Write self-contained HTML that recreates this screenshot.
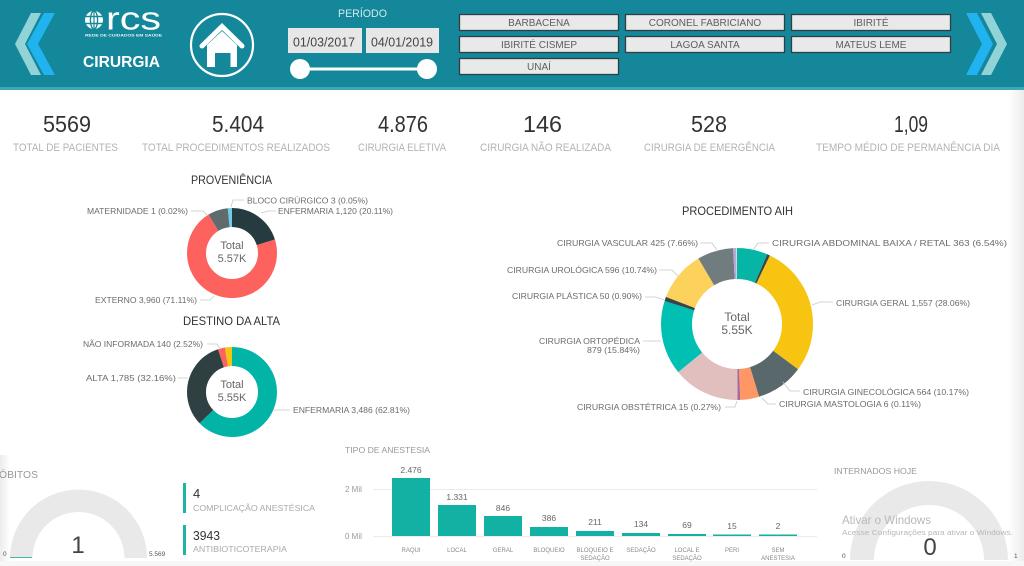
<!DOCTYPE html>
<html><head><meta charset="utf-8">
<style>
html,body{margin:0;padding:0;background:#fff;width:1024px;height:566px;overflow:hidden}
svg{display:block}
text{font-family:"Liberation Sans",Arial,sans-serif}
</style></head>
<body>
<svg width="1024" height="566" viewBox="0 0 1024 566" xmlns="http://www.w3.org/2000/svg">
<defs>
<linearGradient id="rg" x1="0" x2="1" y1="0" y2="0"><stop offset="0" stop-color="#ffffff"/><stop offset="1" stop-color="#ececec"/></linearGradient>
<linearGradient id="lg" x1="0" x2="1" y1="0" y2="0"><stop offset="0" stop-color="#ececec"/><stop offset="1" stop-color="#ffffff"/></linearGradient>
</defs>
<rect x="0" y="0" width="1024" height="566" fill="#ffffff"/>
<rect x="1008" y="90" width="16" height="476" fill="url(#rg)"/>
<rect x="0" y="455" width="10" height="111" fill="url(#lg)"/>
<rect x="0" y="561" width="1024" height="5" fill="#f7f7f7"/>

<!-- HEADER -->
<rect x="0" y="0" width="1024" height="88" fill="#14889a"/>
<rect x="0" y="87" width="1024" height="3" fill="#3aa9b6"/>
<polygon points="31,13 41,13 25,44 41,75 31,75 15,44" fill="#92d3d8"/>
<polygon points="44,13 55,13 38,44 55,75 44,75 27,44" fill="#21b2f0"/>
<polygon points="981,13 991,13 1007,44 991,75 981,75 997,44" fill="#92d3d8"/>
<polygon points="966,13 977,13 993,44 977,75 966,75 982,44" fill="#21b2f0"/>
<circle cx="94" cy="20" r="9" fill="#ffffff"/>
<ellipse cx="94" cy="20" rx="3.6" ry="9" fill="none" stroke="#14889a" stroke-width="1.4"/>
<line x1="85" y1="16.5" x2="103" y2="16.5" stroke="#14889a" stroke-width="1.4"/>
<line x1="85" y1="23.5" x2="103" y2="23.5" stroke="#14889a" stroke-width="1.4"/>
<line x1="94" y1="11" x2="94" y2="29" stroke="#14889a" stroke-width="1.2"/>
<text x="106" y="29.5" font-size="32" fill="#ffffff" textLength="55" lengthAdjust="spacingAndGlyphs">rcs</text>
<text x="85" y="36.5" font-size="3.6" fill="#e6f4f6" textLength="77" lengthAdjust="spacingAndGlyphs" font-weight="bold">REDE DE CUIDADOS EM SAÚDE</text>
<text x="83" y="67" font-size="16" font-weight="bold" fill="#ffffff" textLength="77" lengthAdjust="spacingAndGlyphs">CIRURGIA</text>
<circle cx="222" cy="45" r="31" fill="none" stroke="#ffffff" stroke-width="2.2"/>
<polyline points="202,46 222,26.5 242,46" fill="none" stroke="#ffffff" stroke-width="5" stroke-linecap="round" stroke-linejoin="miter"/>
<path d="M207,45 L222,31 L237,45 L237,67 L230.5,67 L230.5,53 L215,53 L215,67 L207,67 Z" fill="#ffffff"/>
<text x="338" y="17" font-size="11" fill="#cfe9ee" textLength="49" lengthAdjust="spacingAndGlyphs">PERÍODO</text>
<rect x="288" y="28" width="74" height="25" fill="#e7e7e7"/>
<rect x="366" y="28" width="73" height="25" fill="#e7e7e7"/>
<text x="293" y="46.5" font-size="13" fill="#444" textLength="62" lengthAdjust="spacingAndGlyphs">01/03/2017</text>
<text x="371" y="46.5" font-size="13" fill="#444" textLength="62" lengthAdjust="spacingAndGlyphs">04/01/2019</text>
<line x1="300" y1="69" x2="427" y2="69" stroke="#ffffff" stroke-width="3"/>
<circle cx="300" cy="69" r="10" fill="#ffffff"/>
<circle cx="427" cy="69" r="10" fill="#ffffff"/>
<g fill="#e9e9e9" stroke="#2e3e42" stroke-width="1.3">
<rect x="459.5" y="14.5" width="159" height="16"/>
<rect x="625.5" y="14.5" width="159" height="16"/>
<rect x="791.5" y="14.5" width="159" height="16"/>
<rect x="459.5" y="36.5" width="159" height="16"/>
<rect x="625.5" y="36.5" width="159" height="16"/>
<rect x="791.5" y="36.5" width="159" height="16"/>
<rect x="459.5" y="58.5" width="159" height="16"/>
</g>
<g font-size="10" fill="#5e5e5e" text-anchor="middle">
<text x="539" y="26">BARBACENA</text>
<text x="705" y="26">CORONEL FABRICIANO</text>
<text x="871" y="26">IBIRITÉ</text>
<text x="539" y="48">IBIRITÉ CISMEP</text>
<text x="705" y="48">LAGOA SANTA</text>
<text x="871" y="48">MATEUS LEME</text>
<text x="539" y="70">UNAÍ</text>
</g>

<!-- KPIs -->
<g font-size="23" fill="#333">
<text x="43" y="132" textLength="48" lengthAdjust="spacingAndGlyphs">5569</text>
<text x="212" y="132" textLength="52" lengthAdjust="spacingAndGlyphs">5.404</text>
<text x="378" y="132" textLength="50" lengthAdjust="spacingAndGlyphs">4.876</text>
<text x="523" y="132" textLength="39" lengthAdjust="spacingAndGlyphs">146</text>
<text x="691" y="132" textLength="36" lengthAdjust="spacingAndGlyphs">528</text>
<text x="894" y="132" textLength="34" lengthAdjust="spacingAndGlyphs">1,09</text>
</g>
<g font-size="11" fill="#b3b3b3">
<text x="13" y="151" textLength="105" lengthAdjust="spacingAndGlyphs">TOTAL DE PACIENTES</text>
<text x="142" y="151" textLength="188" lengthAdjust="spacingAndGlyphs">TOTAL PROCEDIMENTOS REALIZADOS</text>
<text x="358" y="151" textLength="88" lengthAdjust="spacingAndGlyphs">CIRURGIA ELETIVA</text>
<text x="480" y="151" textLength="131" lengthAdjust="spacingAndGlyphs">CIRURGIA NÃO REALIZADA</text>
<text x="644" y="151" textLength="131" lengthAdjust="spacingAndGlyphs">CIRURGIA DE EMERGÊNCIA</text>
<text x="816" y="151" textLength="184" lengthAdjust="spacingAndGlyphs">TEMPO MÉDIO DE PERMANÊNCIA DIA</text>
</g>

<!-- PROVENIENCIA -->
<text x="191" y="184" font-size="12" fill="#333" textLength="81" lengthAdjust="spacingAndGlyphs">PROVENIÊNCIA</text>
<g fill="none" stroke-width="19" transform="rotate(-90 232 253)">
<circle cx="232" cy="253" r="35.5" pathLength="100" stroke="#263b40" stroke-dasharray="20.11 100" stroke-dashoffset="0"/>
<circle cx="232" cy="253" r="35.5" pathLength="100" stroke="#fd625e" stroke-dasharray="71.11 100" stroke-dashoffset="-20.11"/>
<circle cx="232" cy="253" r="35.5" pathLength="100" stroke="#5f6b6d" stroke-dasharray="7.28 100" stroke-dashoffset="-91.22"/>
<circle cx="232" cy="253" r="35.5" pathLength="100" stroke="#6ccfe6" stroke-dasharray="1.5 100" stroke-dashoffset="-98.5"/>
</g>
<text x="232" y="249" font-size="11" fill="#666" text-anchor="middle">Total</text>
<text x="232" y="262" font-size="11" fill="#666" text-anchor="middle">5.57K</text>
<g font-size="8.5" fill="#6b6b6b">
<text x="247" y="203.5" textLength="121" lengthAdjust="spacingAndGlyphs">BLOCO CIRÚRGICO 3 (0.05%)</text>
<text x="278" y="214" textLength="115" lengthAdjust="spacingAndGlyphs">ENFERMARIA 1,120 (20.11%)</text>
<text x="87" y="214" textLength="101" lengthAdjust="spacingAndGlyphs">MATERNIDADE 1 (0.02%)</text>
<text x="95" y="303" textLength="102" lengthAdjust="spacingAndGlyphs">EXTERNO 3,960 (71.11%)</text>
</g>
<g fill="none" stroke="#c8c8c8" stroke-width="0.8">
<polyline points="191,211 203,211 207,215"/>
<polyline points="231,207 233,200 244,200"/>
<polyline points="261,213 268,211 276,211"/>
<polyline points="200,300 210,300 214,296"/>
</g>

<!-- DESTINO DA ALTA -->
<text x="183" y="325" font-size="12" fill="#333" textLength="97" lengthAdjust="spacingAndGlyphs">DESTINO DA ALTA</text>
<g fill="none" stroke-width="19" transform="rotate(-90 232 392)">
<circle cx="232" cy="392" r="35.5" pathLength="100" stroke="#01b4a6" stroke-dasharray="62.81 100" stroke-dashoffset="0"/>
<circle cx="232" cy="392" r="35.5" pathLength="100" stroke="#2f4043" stroke-dasharray="32.16 100" stroke-dashoffset="-62.81"/>
<circle cx="232" cy="392" r="35.5" pathLength="100" stroke="#fd625e" stroke-dasharray="2.52 100" stroke-dashoffset="-94.97"/>
<circle cx="232" cy="392" r="35.5" pathLength="100" stroke="#f2c80f" stroke-dasharray="2.51 100" stroke-dashoffset="-97.49"/>
</g>
<text x="232" y="388" font-size="11" fill="#666" text-anchor="middle">Total</text>
<text x="232" y="401" font-size="11" fill="#666" text-anchor="middle">5.55K</text>
<g font-size="8.5" fill="#6b6b6b">
<text x="83" y="347" textLength="120" lengthAdjust="spacingAndGlyphs">NÃO INFORMADA 140 (2.52%)</text>
<text x="86" y="381" textLength="90" lengthAdjust="spacingAndGlyphs">ALTA 1,785 (32.16%)</text>
<text x="293" y="413" textLength="117" lengthAdjust="spacingAndGlyphs">ENFERMARIA 3,486 (62.81%)</text>
</g>
<g fill="none" stroke="#c8c8c8" stroke-width="0.8">
<polyline points="207,344 217,344 220,348"/>
<polyline points="178,378 188,378"/>
<polyline points="273,410 290,410"/>
</g>

<!-- PROCEDIMENTO AIH -->
<text x="682" y="215" font-size="12" fill="#333" textLength="111" lengthAdjust="spacingAndGlyphs">PROCEDIMENTO AIH</text>
<g fill="none" stroke-width="31" transform="rotate(-90 737 324)">
<circle cx="737" cy="324" r="60.5" pathLength="100" stroke="#06b5a6" stroke-dasharray="6.54 100" stroke-dashoffset="0"/>
<circle cx="737" cy="324" r="60.5" pathLength="100" stroke="#374649" stroke-dasharray="0.6 100" stroke-dashoffset="-6.54"/>
<circle cx="737" cy="324" r="60.5" pathLength="100" stroke="#f7c511" stroke-dasharray="28.06 100" stroke-dashoffset="-7.14"/>
<circle cx="737" cy="324" r="60.5" pathLength="100" stroke="#59696b" stroke-dasharray="10.17 100" stroke-dashoffset="-35.2"/>
<circle cx="737" cy="324" r="60.5" pathLength="100" stroke="#fe9666" stroke-dasharray="4.0 100" stroke-dashoffset="-45.37"/>
<circle cx="737" cy="324" r="60.5" pathLength="100" stroke="#a66999" stroke-dasharray="0.6 100" stroke-dashoffset="-49.37"/>
<circle cx="737" cy="324" r="60.5" pathLength="100" stroke="#e2bfbf" stroke-dasharray="14.19 100" stroke-dashoffset="-49.97"/>
<circle cx="737" cy="324" r="60.5" pathLength="100" stroke="#00bfb3" stroke-dasharray="15.84 100" stroke-dashoffset="-64.16"/>
<circle cx="737" cy="324" r="60.5" pathLength="100" stroke="#374649" stroke-dasharray="0.9 100" stroke-dashoffset="-80"/>
<circle cx="737" cy="324" r="60.5" pathLength="100" stroke="#fcd15c" stroke-dasharray="10.74 100" stroke-dashoffset="-80.9"/>
<circle cx="737" cy="324" r="60.5" pathLength="100" stroke="#707c7e" stroke-dasharray="7.66 100" stroke-dashoffset="-91.64"/>
<circle cx="737" cy="324" r="60.5" pathLength="100" stroke="#b9a6d9" stroke-dasharray="0.7 100" stroke-dashoffset="-99.3"/>
</g>
<text x="737" y="321" font-size="12" fill="#666" text-anchor="middle">Total</text>
<text x="737" y="334" font-size="12" fill="#666" text-anchor="middle">5.55K</text>
<g font-size="8.5" fill="#6b6b6b">
<text x="557" y="246" textLength="141" lengthAdjust="spacingAndGlyphs">CIRURGIA VASCULAR 425 (7.66%)</text>
<text x="772" y="246" textLength="235" lengthAdjust="spacingAndGlyphs">CIRURGIA ABDOMINAL BAIXA / RETAL 363 (6.54%)</text>
<text x="507" y="273" textLength="150" lengthAdjust="spacingAndGlyphs">CIRURGIA UROLÓGICA 596 (10.74%)</text>
<text x="512" y="299" textLength="130" lengthAdjust="spacingAndGlyphs">CIRURGIA PLÁSTICA 50 (0.90%)</text>
<text x="836" y="306" textLength="134" lengthAdjust="spacingAndGlyphs">CIRURGIA GERAL 1,557 (28.06%)</text>
<text x="640" y="344" text-anchor="end" textLength="101" lengthAdjust="spacingAndGlyphs">CIRURGIA ORTOPÉDICA</text>
<text x="640" y="353" text-anchor="end" textLength="53" lengthAdjust="spacingAndGlyphs">879 (15.84%)</text>
<text x="803" y="395" textLength="166" lengthAdjust="spacingAndGlyphs">CIRURGIA GINECOLÓGICA 564 (10.17%)</text>
<text x="779" y="407" textLength="142" lengthAdjust="spacingAndGlyphs">CIRURGIA MASTOLOGIA 6 (0.11%)</text>
<text x="577" y="410" textLength="144" lengthAdjust="spacingAndGlyphs">CIRURGIA OBSTÉTRICA 15 (0.27%)</text>
</g>
<g fill="none" stroke="#c8c8c8" stroke-width="0.8">
<polyline points="700,243 712,243 717,250"/>
<polyline points="769,243 758,243 753,250"/>
<polyline points="659,270 672,270 678,276"/>
<polyline points="645,297 656,297 664,300"/>
<polyline points="812,305 820,302 833,302"/>
<polyline points="643,341 661,341"/>
<polyline points="783,382 790,391 800,391"/>
<polyline points="762,398 768,404 776,404"/>
<polyline points="725,407 735,407 737,401"/>
</g>

<!-- OBITOS -->
<text x="-1" y="478" font-size="10.5" fill="#999" textLength="39" lengthAdjust="spacingAndGlyphs">ÓBITOS</text>
<path d="M10,558 A68.5,68.5 0 0 1 147,558 L124.5,558 A46,46 0 0 0 32.5,558 Z" fill="#e9e9e9"/>
<line x1="10" y1="557.5" x2="32" y2="557.5" stroke="#3bb5ad" stroke-width="1"/>
<text x="78" y="553" font-size="24" fill="#444" text-anchor="middle">1</text>
<text x="3" y="556" font-size="6.5" fill="#555">0</text>
<text x="149" y="556" font-size="6.5" fill="#555">5.569</text>

<rect x="183" y="483" width="3" height="30" fill="#1fb5a5"/>
<rect x="183" y="525" width="3" height="30" fill="#1fb5a5"/>
<text x="193" y="498" font-size="13" fill="#333">4</text>
<text x="193" y="511" font-size="8.7" fill="#aaa" textLength="122" lengthAdjust="spacingAndGlyphs">COMPLICAÇÃO ANESTÉSICA</text>
<text x="193" y="540" font-size="13" fill="#333" textLength="27" lengthAdjust="spacingAndGlyphs">3943</text>
<text x="193" y="552" font-size="8.7" fill="#aaa" textLength="94" lengthAdjust="spacingAndGlyphs">ANTIBIOTICOTERAPIA</text>

<!-- TIPO DE ANESTESIA -->
<text x="345" y="453" font-size="8.5" fill="#999" textLength="85" lengthAdjust="spacingAndGlyphs">TIPO DE ANESTESIA</text>
<line x1="373" y1="489.5" x2="817" y2="489.5" stroke="#ebebeb" stroke-width="1"/>
<line x1="373" y1="536.5" x2="817" y2="536.5" stroke="#ebebeb" stroke-width="1"/>
<text x="345" y="492" font-size="8" fill="#999">2 Mil</text>
<text x="345" y="539" font-size="8" fill="#999">0 Mil</text>
<g fill="#12b1a3">
<rect x="392" y="478" width="38" height="58"/>
<rect x="438" y="505" width="38" height="31"/>
<rect x="484" y="516" width="38" height="20"/>
<rect x="530" y="527" width="38" height="9"/>
<rect x="576" y="531" width="38" height="5"/>
<rect x="622" y="533" width="38" height="3"/>
<rect x="668" y="534" width="38" height="2"/>
<rect x="713" y="534.5" width="38" height="1.5"/>
<rect x="759" y="534.5" width="38" height="1.5"/>
</g>
<g font-size="8.5" fill="#666" text-anchor="middle">
<text x="411" y="473">2.476</text>
<text x="457" y="500">1.331</text>
<text x="503" y="511">846</text>
<text x="549" y="521">386</text>
<text x="595" y="525">211</text>
<text x="641" y="527">134</text>
<text x="687" y="528">69</text>
<text x="732" y="529">15</text>
<text x="778" y="529">2</text>
</g>
<g font-size="6" fill="#888" text-anchor="middle">
<text x="411" y="552">RAQUI</text>
<text x="457" y="552">LOCAL</text>
<text x="503" y="552">GERAL</text>
<text x="549" y="552">BLOQUEIO</text>
<text x="595" y="552">BLOQUEIO E</text>
<text x="595" y="560">SEDAÇÃO</text>
<text x="641" y="552">SEDAÇÃO</text>
<text x="687" y="552">LOCAL E</text>
<text x="687" y="560">SEDAÇÃO</text>
<text x="732" y="552">PERI</text>
<text x="778" y="552">SEM</text>
<text x="778" y="560">ANESTESIA</text>
</g>

<!-- INTERNADOS HOJE -->
<text x="834" y="474" font-size="8.5" fill="#999" textLength="83" lengthAdjust="spacingAndGlyphs">INTERNADOS HOJE</text>
<path d="M850,560 A79,79 0 0 1 1008,560 L984,560 A55,55 0 0 0 874,560 Z" fill="#e9e9e9"/>
<text x="842" y="524" font-size="12" fill="#b8b8b8" textLength="89" lengthAdjust="spacingAndGlyphs">Ativar o Windows</text>
<text x="842" y="535" font-size="7.5" fill="#b8b8b8" textLength="171" lengthAdjust="spacingAndGlyphs">Acesse Configurações para ativar o Windows.</text>
<text x="930" y="555" font-size="24" fill="#444" text-anchor="middle">0</text>
<text x="842" y="558" font-size="6.5" fill="#555">0</text>
<text x="1014" y="558" font-size="6.5" fill="#555">1</text>
</svg>
</body></html>
